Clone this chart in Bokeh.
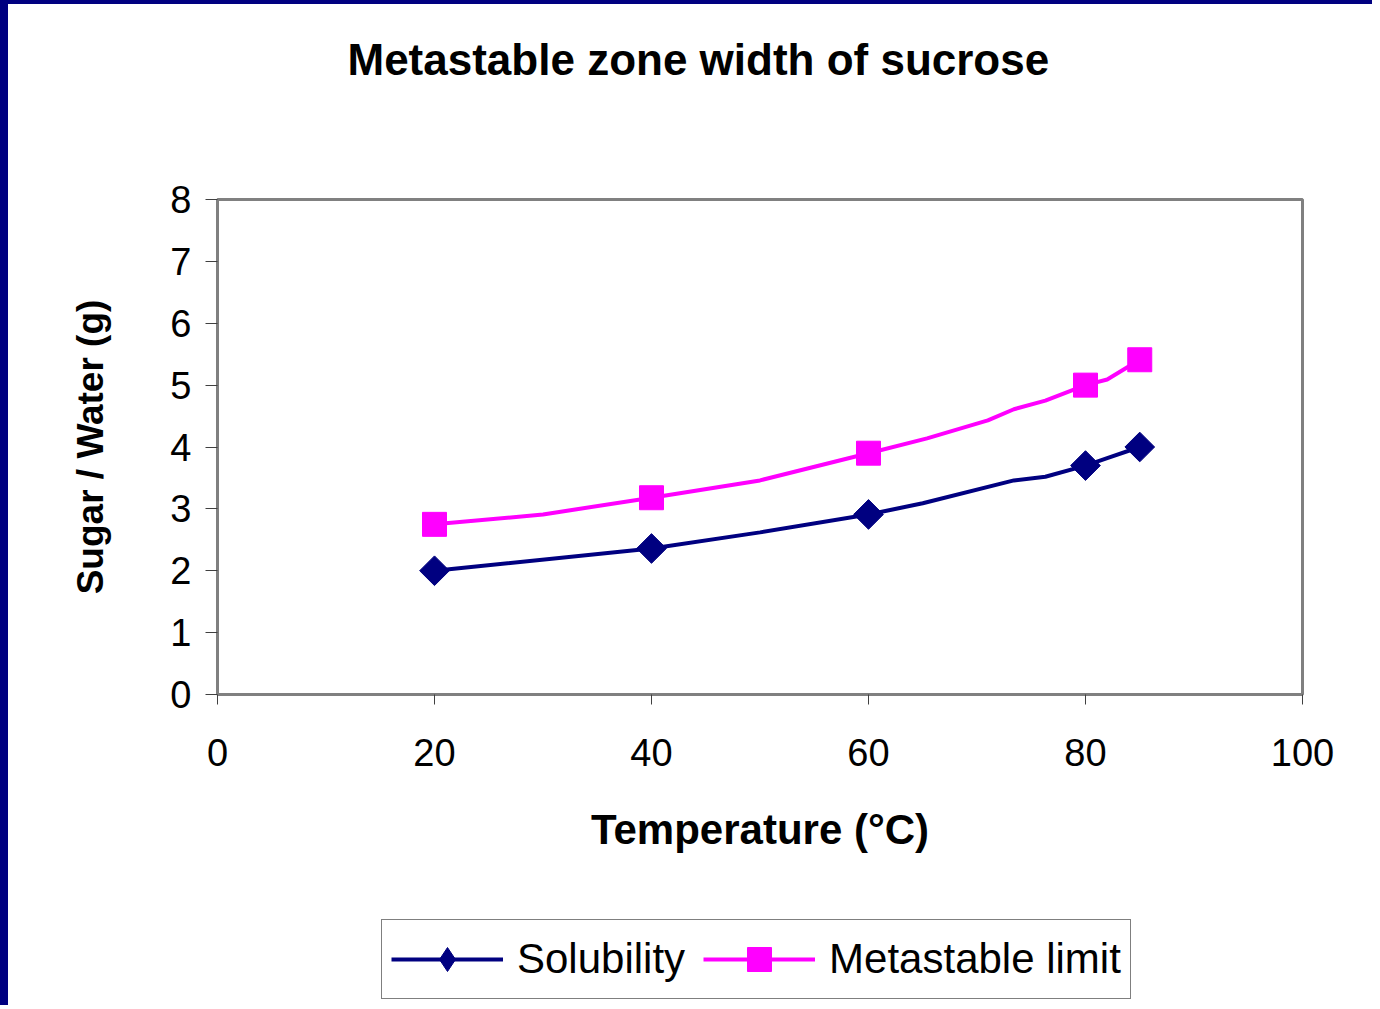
from bokeh.plotting import figure
from bokeh.layouts import column
from bokeh.models import Range1d, Legend, LegendItem, Title, FixedTicker
from bokeh.embed import file_html
from bokeh.resources import INLINE
import math

# Data
temperature = [20, 40, 60, 80, 85]
solubility = [2.0, 2.36, 2.91, 3.70, 4.0]
metastable_limit = [2.75, 3.18, 3.90, 5.0, 5.41]

# Smoothed-curve vertices as drawn in the reference
sol_curve_x = [20, 40, 50, 60, 65, 73.4, 76.3, 80, 82, 85]
sol_curve_y = [2.0, 2.36, 2.62, 2.91, 3.09, 3.46, 3.52, 3.70, 3.82, 4.0]
meta_curve_x = [20, 30, 40, 50, 60, 65.4, 71, 73.4, 76.3, 80, 82, 85]
meta_curve_y = [2.75, 2.91, 3.18, 3.46, 3.90, 4.14, 4.43, 4.61, 4.75, 5.0, 5.09, 5.41]

x_ticks = [0, 20, 40, 60, 80, 100]
y_ticks = [0, 1, 2, 3, 4, 5, 6, 7, 8]

title_text = "Metastable zone width of sucrose"
x_label = "Temperature (°C)"
y_label = "Sugar / Water (g)"
series_names = ["Solubility", "Metastable limit"]

FONT = "Liberation Sans"
NAVY = "#000080"
MAGENTA = "#FF00FF"

# ---------------- main chart ----------------
p = figure(width=1372, height=905, output_backend="svg", toolbar_location=None,
           x_range=Range1d(0, 100), y_range=Range1d(0, 8),
           min_border_left=209, min_border_right=78,
           min_border_top=195, min_border_bottom=215)
p.styles = {"border-left": "8px solid #000080", "border-top": "4px solid #000080"}

p.background_fill_color = "white"
p.border_fill_color = "white"
p.outline_line_color = "#808080"
p.outline_line_width = 3
p.grid.visible = False

for ax in (p.xaxis[0], p.yaxis[0]):
    ax.axis_line_color = "#808080"
    ax.axis_line_width = 3
    ax.major_tick_line_color = "#404040"
    ax.major_tick_line_width = 1
    ax.major_tick_in = 0
    ax.minor_tick_line_color = None
    ax.major_label_text_font = FONT
    ax.major_label_text_font_size = "38px"
    ax.major_label_text_color = "black"
    ax.axis_label_text_font = FONT
    ax.axis_label_text_font_style = "bold"
    ax.axis_label_text_color = "black"

p.xaxis.ticker = FixedTicker(ticks=x_ticks)
p.yaxis.ticker = FixedTicker(ticks=y_ticks)
p.xaxis.major_tick_out = 10
p.yaxis.major_tick_out = 12
p.xaxis.major_label_standoff = 34
p.yaxis.major_label_standoff = 14
p.xaxis.axis_label = x_label
p.yaxis.axis_label = y_label
p.xaxis.axis_label_text_font_size = "42px"
p.yaxis.axis_label_text_font_size = "37px"
p.xaxis.axis_label_standoff = 37
p.yaxis.axis_label_standoff = 56

p.line(sol_curve_x, sol_curve_y, line_color=NAVY, line_width=4)
p.scatter(temperature, solubility, marker="square", angle=math.pi / 4,
          size=21, fill_color=NAVY, line_color=NAVY)
p.line(meta_curve_x, meta_curve_y, line_color=MAGENTA, line_width=4)
p.scatter(temperature, metastable_limit, marker="square", size=24,
          fill_color=MAGENTA, line_color=MAGENTA)

# spacer between plot frame and title, then the title itself
p.add_layout(Title(text=" ", text_font_size="10px", standoff=73), "above")
p.add_layout(Title(text=title_text, align="left", offset=130, vertical_align="middle",
                   text_font=FONT, text_font_size="44px", text_font_style="bold",
                   text_color="black", standoff=58), "above")

# ---------------- legend strip ----------------
q = figure(width=1372, height=100, output_backend="svg", toolbar_location=None,
           x_range=Range1d(0, 100), y_range=Range1d(100, 200),
           x_axis_type=None, y_axis_type=None,
           min_border_left=0, min_border_right=0, min_border_top=0, min_border_bottom=0)
q.styles = {"border-left": "8px solid #000080"}
q.outline_line_color = None
q.grid.visible = False
q.background_fill_color = "white"
q.border_fill_color = "white"

# same series drawn in the strip (outside its visible range) to supply legend glyphs
ql1 = q.line(sol_curve_x, sol_curve_y, line_color=NAVY, line_width=4)
qm1 = q.scatter(temperature, solubility, marker="diamond", size=21,
                fill_color=NAVY, line_color=NAVY)
ql2 = q.line(meta_curve_x, meta_curve_y, line_color=MAGENTA, line_width=4)
qm2 = q.scatter(temperature, metastable_limit, marker="square", size=24,
                fill_color=MAGENTA, line_color=MAGENTA)

legend = Legend(items=[LegendItem(label=series_names[0], renderers=[ql1, qm1]),
                       LegendItem(label=series_names[1], renderers=[ql2, qm2])],
                orientation="horizontal", location=(164, 6))
legend.label_text_font = FONT
legend.label_text_font_size = "42px"
legend.label_text_color = "black"
legend.glyph_width = 112
legend.glyph_height = 60
legend.label_standoff = 14
legend.spacing = 18
legend.padding = 9
legend.margin = 0
legend.border_line_color = "black"
legend.border_line_width = 1.5
legend.background_fill_color = "white"
legend.background_fill_alpha = 1
q.add_layout(legend, "center")

layout = column(p, q, spacing=0)

open("out.html", "w").write(file_html(layout, INLINE))
